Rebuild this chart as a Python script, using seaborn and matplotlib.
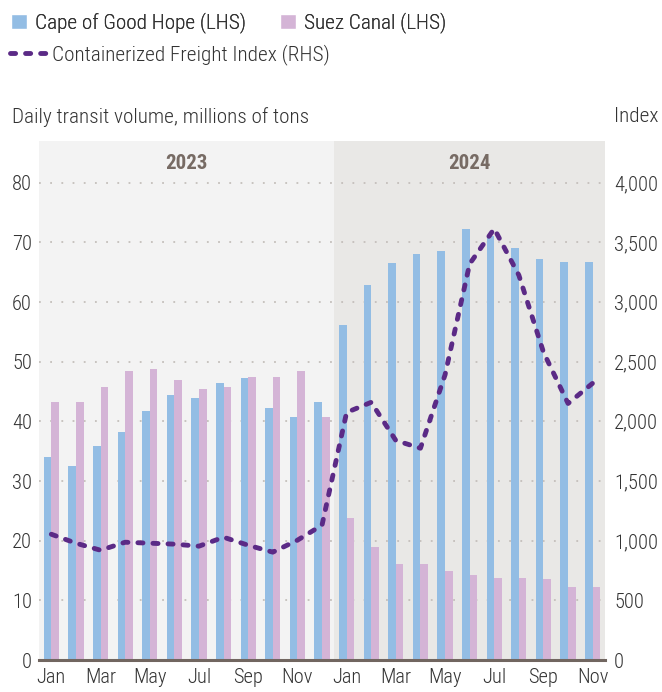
import numpy as np
import pandas as pd
import matplotlib
matplotlib.use("Agg")
import matplotlib.pyplot as plt
import seaborn as sns
from matplotlib.patches import Patch
from matplotlib.lines import Line2D

# ---------------- data ----------------
periods = [f"2023-{m:02d}" for m in range(1, 13)] + [f"2024-{m:02d}" for m in range(1, 12)]
cape = [34.1, 32.6, 35.8, 38.2, 41.8, 44.4, 44.0, 46.4, 47.2, 42.2, 40.8, 43.3,
        56.1, 62.8, 66.6, 68.1, 68.6, 72.3, 71.0, 69.0, 67.3, 66.8, 66.8]
suez = [43.2, 43.3, 45.7, 48.5, 48.7, 47.0, 45.4, 45.7, 47.4, 47.4, 48.4, 40.7,
        23.8, 18.9, 16.1, 16.1, 14.9, 14.2, 13.7, 13.7, 13.5, 12.2, 12.2]
freight = [1054, 979, 920, 987, 979, 971, 954, 1029, 962, 904, 1004, 1130,
           2075, 2160, 1840, 1775, 2390, 3320, 3615, 3225, 2580, 2150, 2320]
tick_labels = ["Jan", "Mar", "May", "Jul", "Sep", "Nov"] * 2
years = ["2023", "2024"]
left_ticks = [0, 10, 20, 30, 40, 50, 60, 70, 80]
right_ticks = [0, 500, 1000, 1500, 2000, 2500, 3000, 3500, 4000]
series_names = ["Cape of Good Hope (LHS)", "Suez Canal (LHS)"]
line_name = "Containerized Freight Index (RHS)"

BLUE = "#93bde4"
PINK = "#d4b4d6"
PURPLE = "#5b2a86"
TXT = "#333333"
DASH = (0, (1.05, 2.05))

df = pd.DataFrame({
    "period": periods * 2,
    "series": [series_names[0]] * len(periods) + [series_names[1]] * len(periods),
    "value": cape + suez,
})

sns.set_theme(style="white")
plt.rcParams["font.family"] = ["Roboto Condensed", "Roboto", "DejaVu Sans"]
plt.rcParams["font.weight"] = "light"

fig = plt.figure(figsize=(6.62, 6.92), dpi=100)
ax = fig.add_axes([39 / 662, 1 - 660 / 692, (605 - 39) / 662, (660 - 141) / 692])

n = len(periods)
ax.axvspan(-0.5, 11.5, color="#f3f3f3", zorder=0, lw=0)
ax.axvspan(11.5, n - 0.5, color="#e9e8e6", zorder=0, lw=0)
for y in left_ticks[1:]:
    ax.axhline(y, color="#c4bfbb", lw=1.3, linestyle=(0, (1, 5.2)), zorder=0.5)

sns.barplot(data=df, x="period", y="value", hue="series", order=periods,
            hue_order=series_names, palette=[BLUE, PINK], width=0.62,
            saturation=1, linewidth=0, errorbar=None, legend=False, ax=ax, zorder=2)

ax.set_xlim(-0.5, n - 0.5)
ax.set_ylim(0, 87)
ax.set_xlabel("")
ax.set_ylabel("")
ax.set_xticks(list(range(0, n, 2)))
ax.set_xticklabels(tick_labels)
ax.set_yticks(left_ticks)
ax.set_yticklabels([str(v) for v in left_ticks])
ax.tick_params(axis="both", length=0, labelsize=14.8, labelcolor=TXT)
ax.tick_params(axis="y", pad=5)
ax.tick_params(axis="x", pad=6)
for s in ["left", "right", "top"]:
    ax.spines[s].set_visible(False)
ax.spines["bottom"].set_color("#716660")
ax.spines["bottom"].set_linewidth(2.2)
ax.spines["bottom"].set_zorder(5)

ax.text(5.5, 83.3, years[0], ha="center", va="center", fontweight="bold",
        color="#776b64", fontsize=15)
ax.text(17.0, 83.3, years[1], ha="center", va="center", fontweight="bold",
        color="#776b64", fontsize=15)

ax2 = ax.twinx()
sns.lineplot(x=np.arange(n), y=freight, ax=ax2, color=PURPLE, lw=3.5,
             linestyle=DASH, dash_capstyle="round")
ax2.set_ylim(0, 87 * 50)
ax2.set_yticks(right_ticks)
ax2.set_yticklabels([f"{v:,}" for v in right_ticks])
ax2.tick_params(axis="y", length=0, labelsize=14.8, labelcolor=TXT, pad=6.5)
for s in ax2.spines.values():
    s.set_visible(False)
ax2.set_xlim(-0.5, n - 0.5)

fig.text(12 / 662, 1 - 117 / 692, "Daily transit volume, millions of tons",
         ha="left", va="center", fontsize=15.3, color=TXT)
fig.text(659 / 662, 1 - 117 / 692, "Index", ha="right", va="center",
         fontsize=15.3, color=TXT)

leg1 = fig.legend(handles=[Patch(facecolor=BLUE, label=series_names[0]),
                           Patch(facecolor=PINK, label=series_names[1])],
                  loc="center left", bbox_to_anchor=(11 / 662, 1 - 23 / 692), ncol=2,
                  frameon=False, handlelength=0.75, handleheight=0.75,
                  handletextpad=0.38, columnspacing=1.6, fontsize=15.3,
                  borderpad=0, borderaxespad=0, labelcolor=TXT)
leg2 = fig.legend(handles=[Line2D([0], [0], color=PURPLE, lw=3.5,
                                  linestyle=DASH, dash_capstyle="round",
                                  label=line_name)],
                  loc="center left", bbox_to_anchor=(10 / 662, 1 - 55 / 692),
                  frameon=False, handlelength=1.72, handletextpad=0.25,
                  fontsize=15.3, borderpad=0, borderaxespad=0, labelcolor=TXT)
fig.add_artist(leg1)

fig.savefig("out.png", dpi=100)
